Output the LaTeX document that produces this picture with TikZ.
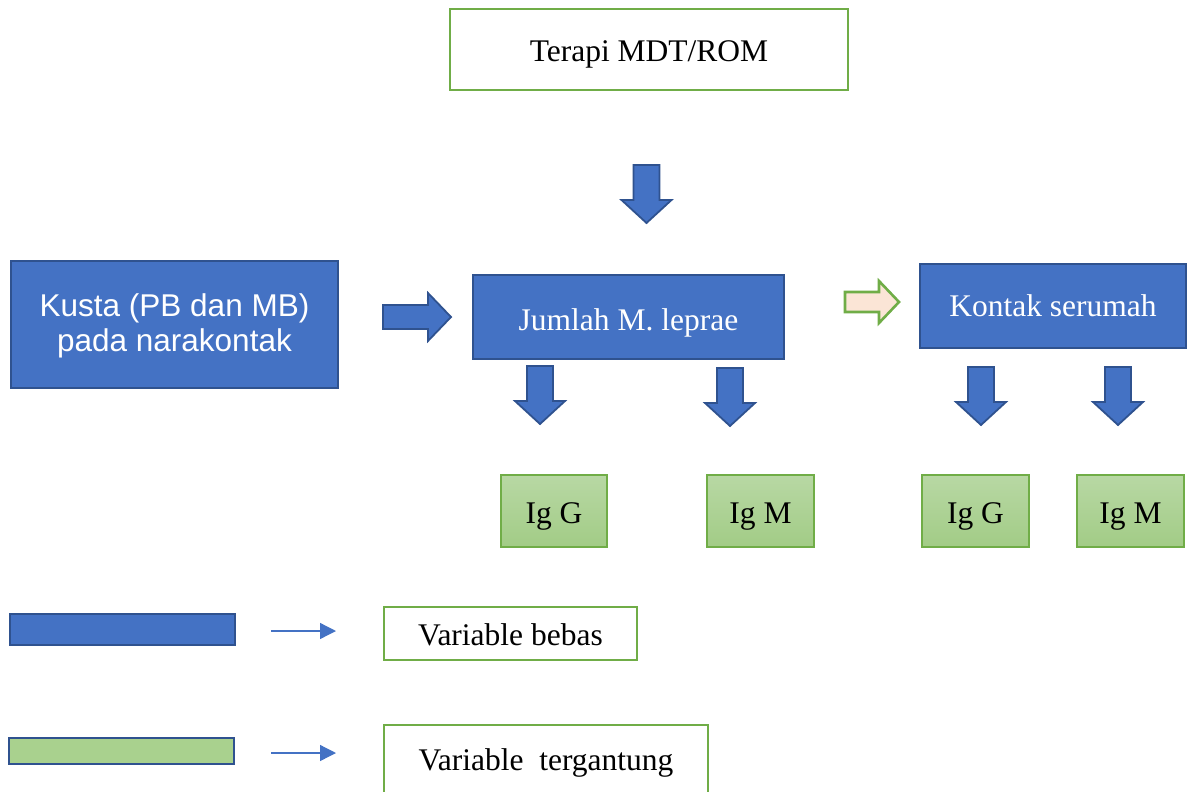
\documentclass[tikz,border=0pt]{standalone}
\usepackage{fontspec}
\setmainfont{Liberation Serif}
\newfontfamily\arialfont{Liberation Sans}
\usetikzlibrary{arrows.meta}
\definecolor{bfill}{HTML}{4472C4}
\definecolor{bline}{HTML}{2F528F}
\definecolor{gline}{HTML}{70AD47}
\definecolor{gfill}{HTML}{A9D18E}
\definecolor{gtop}{HTML}{B8D8A4}
\definecolor{gbot}{HTML}{A2CC86}
\definecolor{peach}{HTML}{FBE5D6}
\tikzset{
  txt/.style={font=\fontsize{31.5}{37}\selectfont, text height=30pt, text depth=6pt},
  bluebox/.style={draw=bline, line width=2pt, fill=bfill, text=white, inner sep=0pt, align=center, txt},
  whitebox/.style={draw=gline, line width=2pt, fill=white, text=black, inner sep=0pt, align=center, txt},
  igbox/.style={draw=gline, line width=1.2pt, top color=gtop, bottom color=gbot, text=black, inner sep=0pt, txt},
  blockarrow/.style={draw=bline, line width=1.8pt, fill=bfill, line join=miter},
  thinarrow/.style={draw=bfill, line width=1.3pt, -{Triangle[length=16pt,width=16pt]}},
  downblock/.pic={\path[blockarrow] (-13,0) -- (13,0) -- (13,35) -- (25,35) -- (0,58) -- (-25,35) -- (-13,35) -- cycle;}
}
\begin{document}
\begin{tikzpicture}[x=1pt,y=-1pt]
\useasboundingbox (0,0) rectangle (1191,792);
% main boxes
\node[whitebox, minimum width=398pt, minimum height=81pt] (terapi) at (649,49.5) {Terapi MDT/ROM};
\node[bluebox, minimum width=327pt, minimum height=127pt] (kusta) at (174.5,324.5) {};
\node[text=white, align=center, inner sep=0pt, font=\arialfont\fontsize{31.5}{35}\selectfont, yshift=-1.5pt] (kustatext) at (kusta.center) {Kusta (PB dan MB)\\pada narakontak};
\node[bluebox, minimum width=311pt, minimum height=84pt, text height=32pt] (jumlah) at (628.5,317) {Jumlah M. leprae};
\node[bluebox, minimum width=266pt, minimum height=84pt, text height=26pt] (kontak) at (1053,306) {Kontak serumah};
\node[igbox, minimum width=106pt, minimum height=72pt] (igg1) at (554,511) {Ig G};
\node[igbox, minimum width=107pt, minimum height=72pt] (igm1) at (760.5,511) {Ig M};
\node[igbox, minimum width=107pt, minimum height=72pt] (igg2) at (975.5,511) {Ig G};
\node[igbox, minimum width=107pt, minimum height=72pt] (igm2) at (1130.5,511) {Ig M};
% block arrows
\pic at (646.5,165) {downblock};
\pic at (540,366) {downblock};
\pic at (730,368) {downblock};
\pic at (981,367) {downblock};
\pic at (1118,367) {downblock};
\path[blockarrow] (383,305) -- (428,305) -- (428,293) -- (451,317) -- (428,341) -- (428,329) -- (383,329) -- cycle;
\path[draw=gline, line width=2.6pt, fill=peach, line join=miter] (845,292) -- (879,292) -- (879,281) -- (899,302) -- (879,323) -- (879,312) -- (845,312) -- cycle;
% legend
\node[draw=bline, line width=2pt, fill=bfill, minimum width=225pt, minimum height=31pt, inner sep=0pt] (lblue) at (122.5,629.5) {};
\node[draw=bline, line width=2pt, fill=gfill, minimum width=225pt, minimum height=26pt, inner sep=0pt] (lgreen) at (121.5,751) {};
\node[whitebox, minimum width=253pt, minimum height=53pt] (bebas) at (510.5,633.5) {Variable bebas};
\node[whitebox, minimum width=324pt, minimum height=72pt, text height=24pt] (terg) at (546,761) {Variable\ \ tergantung};
\draw[thinarrow] ([xshift=35pt]lblue.east |- 0,631) -- ([xshift=-47pt]bebas.west |- 0,631);
\draw[thinarrow] ([xshift=36pt]lgreen.east |- 0,753) -- ([xshift=-47pt]terg.west |- 0,753);
\end{tikzpicture}
\end{document}
